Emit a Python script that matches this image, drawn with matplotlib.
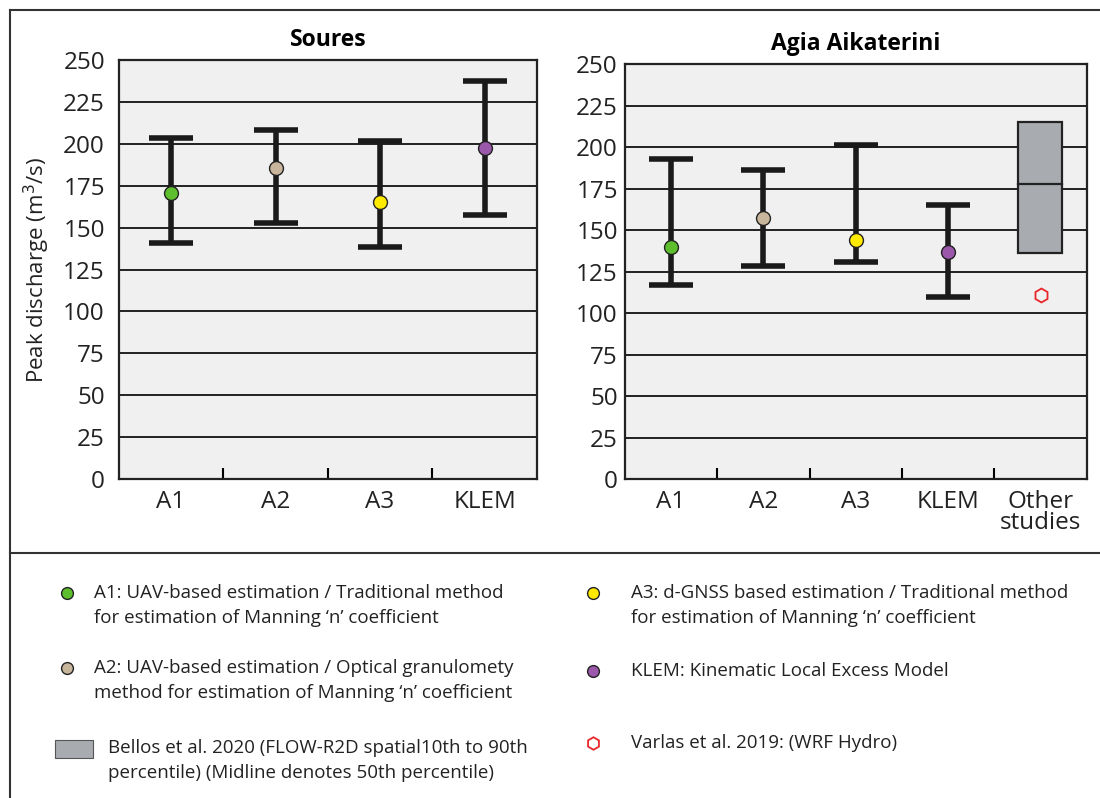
import matplotlib.pyplot as plt
from matplotlib.patches import Rectangle
from matplotlib.lines import Line2D

plt.rcParams['font.family'] = ['Open Sans', 'DejaVu Sans']

# peak discharge estimates (m3/s): central value, lower and upper bounds
cats_soures = ['A1', 'A2', 'A3', 'KLEM']
soures_mid = [170.5, 185.5, 165.5, 197.5]
soures_low = [141, 152.5, 138.5, 157.5]
soures_high = [203.5, 208, 201.5, 237.5]

cats_agia = ['A1', 'A2', 'A3', 'KLEM', 'Other\nstudies']
agia_mid = [140, 157.5, 144, 137]
agia_low = [117, 128.5, 130.5, 109.5]
agia_high = [193, 186, 201, 165]

# Bellos et al. 2020 percentiles (10th, 50th, 90th) and Varlas et al. 2019
bellos_p10, bellos_p50, bellos_p90 = 136, 178, 215
varlas = 111

colors = ['#5dbf2d', '#c8b59c', '#ffea00', '#9b57a9']
yticks = list(range(0, 251, 25))

fig = plt.figure(figsize=(11, 7.98), dpi=100)


def setup(ax, cats, title, pad):
    n = len(cats)
    ax.set_facecolor('#f0f0f0')
    ax.set_xlim(0, n)
    ax.set_ylim(0, 250)
    ax.set_yticks(yticks)
    ax.tick_params(axis='y', length=0, labelsize=17.5, pad=pad, colors='#222222')
    ax.yaxis.grid(True, color='#111111', lw=1.3)
    ax.set_axisbelow(True)
    ax.set_xticks(range(1, n))
    ax.set_xticklabels([])
    ax.tick_params(axis='x', which='major', direction='in', length=8, width=1.5)
    ax.set_xticks([i + 0.5 for i in range(n)], minor=True)
    ax.set_xticklabels(cats, minor=True, fontsize=17.5, linespacing=0.85)
    ax.tick_params(axis='x', which='minor', length=0, pad=8, labelsize=17.5,
                   colors='#222222')
    for s in ax.spines.values():
        s.set_linewidth(1.6)
        s.set_color('#222222')
    ax.set_title(title, fontsize=16.5, fontweight='bold', pad=10)


def draw_points(ax, mid, low, high):
    for i in range(len(mid)):
        x = i + 0.5
        ax.errorbar(x, mid[i], yerr=[[mid[i] - low[i]], [high[i] - mid[i]]],
                    fmt='none', ecolor='#1a1a1a', elinewidth=4, capsize=16,
                    capthick=4, zorder=3)
        ax.plot(x, mid[i], 'o', ms=10, mfc=colors[i], mec='#222222', mew=1,
                zorder=4)


ax1 = fig.add_axes([0.108, 0.3997, 0.380, 0.525])
setup(ax1, cats_soures, 'Soures', 10)
ax1.set_ylabel('Peak discharge (m$^3$/s)', fontsize=16, labelpad=8,
               color='#222222')
draw_points(ax1, soures_mid, soures_low, soures_high)

ax2 = fig.add_axes([0.568, 0.3997, 0.420, 0.520])
setup(ax2, cats_agia, 'Agia Aikaterini', 5)
draw_points(ax2, agia_mid, agia_low, agia_high)
ax2.add_patch(Rectangle((4.26, bellos_p10), 0.475, bellos_p90 - bellos_p10,
                        fc='#a8acb0', ec='#222222', lw=1.6, zorder=3))
ax2.plot([4.26, 4.735], [bellos_p50, bellos_p50], color='#222222', lw=1.6,
         zorder=4)
ax2.plot(4.5, varlas, 'h', ms=10, mfc='none', mec='#e8262a', mew=1.3,
         zorder=4)

# frame and legend panel in pixel coordinates
lg = fig.add_axes([0, 0, 1, 1], zorder=-1)
lg.set_xlim(0, 1100)
lg.set_ylim(798, 0)
lg.axis('off')
lg.add_line(Line2D([10, 1100], [10, 10], color='#333333', lw=1.5))
lg.add_line(Line2D([10, 10], [10, 798], color='#333333', lw=1.5))
lg.add_line(Line2D([10, 1100], [553, 553], color='#333333', lw=1.5))

fs = 13.5
ls = 1.5
items = [
    (67, 593, colors[0], 'A1: UAV-based estimation / Traditional method\nfor estimation of Manning \u2018n\u2019 coefficient'),
    (67, 668, colors[1], 'A2: UAV-based estimation / Optical granulomety\nmethod for estimation of Manning \u2018n\u2019 coefficient'),
    (593, 593, colors[2], 'A3: d-GNSS based estimation / Traditional method\nfor estimation of Manning \u2018n\u2019 coefficient'),
    (593, 671, colors[3], 'KLEM: Kinematic Local Excess Model'),
]
for x, y, c, txt in items:
    lg.plot(x, y, 'o', ms=8.5, mfc=c, mec='#222222', mew=1)
    lg.text(x + 27 if x < 300 else x + 38, y - 9, txt, fontsize=fs,
            va='top', ha='left', linespacing=ls, color='#222222')

lg.add_patch(Rectangle((55, 740), 38, 18, fc='#a8acb0', ec='#555555', lw=0.8))
lg.text(108, 739, 'Bellos et al. 2020 (FLOW-R2D spatial10th to 90th\npercentile) (Midline denotes 50th percentile)',
        fontsize=fs, va='top', ha='left', linespacing=ls, color='#222222')
lg.plot(593, 743, 'h', ms=9, mfc='none', mec='#e8262a', mew=1.3)
lg.text(631, 734, 'Varlas et al. 2019: (WRF Hydro)', fontsize=fs,
        va='top', ha='left', color='#222222')

fig.savefig('out.png', dpi=100, facecolor='white')
